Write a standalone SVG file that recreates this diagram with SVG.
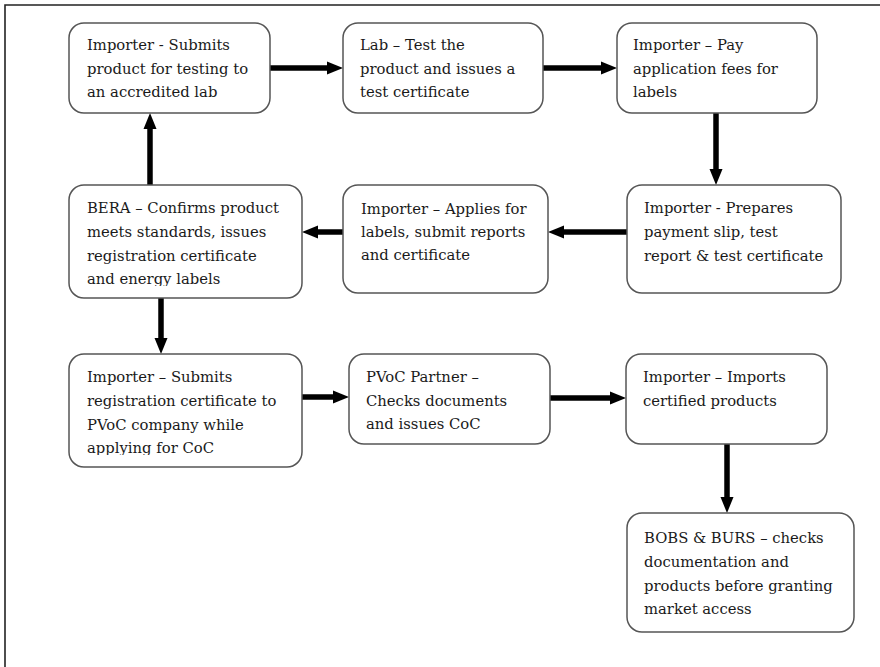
<svg xmlns="http://www.w3.org/2000/svg" width="880" height="667" viewBox="0 0 880 667">
<style>
.box{fill:#fff;stroke:#555;stroke-width:1.5}
.t{font-family:"DejaVu Serif","Liberation Serif",serif;font-size:14.8px;fill:#1a1a1a}
.c{stroke:#000;stroke-width:5.5;fill:none;marker-end:url(#ah)}
.frame{stroke:#222;stroke-width:1.6;fill:none}
</style>
<defs>
<marker id="ah" markerUnits="userSpaceOnUse" markerWidth="20" markerHeight="16" refX="0" refY="6.5" orient="auto" overflow="visible">
<path d="M0,0 L16,6.5 L0,13 z" fill="#000"/>
</marker>
<clipPath id="clipBera"><rect x="60" y="180" width="260" height="106"/></clipPath>
<clipPath id="clipSub"><rect x="60" y="350" width="260" height="105"/></clipPath>
</defs>
<rect width="880" height="667" fill="#fff"/>
<path class="frame" d="M5,667 V5 H880"/>

<g id="connectors">
<path class="c" d="M270,68 H327"/>
<path class="c" d="M543,68 H601"/>
<path class="c" d="M716,113 V169"/>
<path class="c" d="M627,232 H564"/>
<path class="c" d="M343,232 H318"/>
<path class="c" d="M150,185 V129"/>
<path class="c" d="M161,298 V338"/>
<path class="c" d="M302,397 H333"/>
<path class="c" d="M550,398 H610"/>
<path class="c" d="M727,444 V497"/>
</g>

<g id="n1"><rect class="box" x="69" y="23" width="201" height="90" rx="15"/>
<text class="t" x="87" y="50">Importer - Submits</text>
<text class="t" x="87" y="73.5">product for testing to</text>
<text class="t" x="87" y="97">an accredited lab</text></g>

<g id="n2"><rect class="box" x="343" y="23" width="200" height="90" rx="15"/>
<text class="t" x="360" y="50">Lab – Test the</text>
<text class="t" x="360" y="73.5">product and issues a</text>
<text class="t" x="360" y="97">test certificate</text></g>

<g id="n3"><rect class="box" x="617" y="23" width="200" height="90" rx="15"/>
<text class="t" x="633" y="50">Importer – Pay</text>
<text class="t" x="633" y="73.5">application fees for</text>
<text class="t" x="633" y="97">labels</text></g>

<g id="n4"><rect class="box" x="69" y="185" width="233" height="113" rx="15"/>
<g clip-path="url(#clipBera)">
<text class="t" x="87" y="213">BERA – Confirms product</text>
<text class="t" x="87" y="237">meets standards, issues</text>
<text class="t" x="87" y="261">registration certificate</text>
<text class="t" x="87" y="284">and energy labels</text></g></g>

<g id="n5"><rect class="box" x="343" y="185" width="205" height="108" rx="15"/>
<text class="t" x="361" y="214">Importer – Applies for</text>
<text class="t" x="361" y="237">labels, submit reports</text>
<text class="t" x="361" y="260">and certificate</text></g>

<g id="n6"><rect class="box" x="627" y="185" width="214" height="108" rx="15"/>
<text class="t" x="644" y="213">Importer - Prepares</text>
<text class="t" x="644" y="237">payment slip, test</text>
<text class="t" x="644" y="261">report &amp; test certificate</text></g>

<g id="n7"><rect class="box" x="69" y="354" width="233" height="113" rx="15"/>
<g clip-path="url(#clipSub)">
<text class="t" x="87" y="382">Importer – Submits</text>
<text class="t" x="87" y="406">registration certificate to</text>
<text class="t" x="87" y="430">PVoC company while</text>
<text class="t" x="87" y="453">applying for CoC</text></g></g>

<g id="n8"><rect class="box" x="349" y="354" width="201" height="90" rx="15"/>
<text class="t" x="366" y="382">PVoC Partner –</text>
<text class="t" x="366" y="406">Checks documents</text>
<text class="t" x="366" y="429">and issues CoC</text></g>

<g id="n9"><rect class="box" x="626" y="354" width="201" height="90" rx="15"/>
<text class="t" x="643" y="382">Importer – Imports</text>
<text class="t" x="643" y="406">certified products</text></g>

<g id="n10"><rect class="box" x="627" y="513" width="227" height="119" rx="15"/>
<text class="t" x="644" y="543">BOBS &amp; BURS – checks</text>
<text class="t" x="644" y="567">documentation and</text>
<text class="t" x="644" y="591">products before granting</text>
<text class="t" x="644" y="614">market access</text></g>
</svg>
